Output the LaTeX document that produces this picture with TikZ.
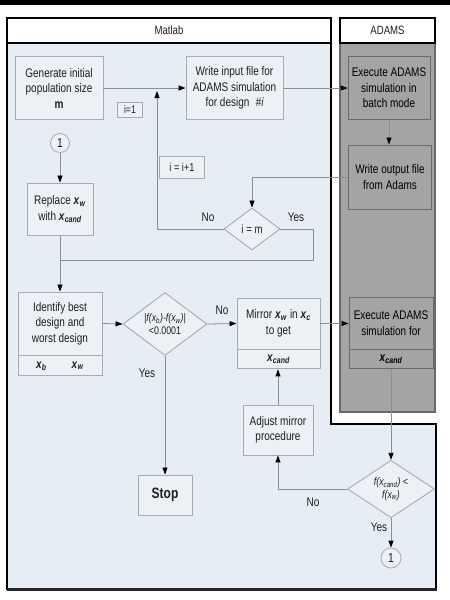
\documentclass[tikz,border=0pt]{standalone}
\usepackage{fontspec}
\setmainfont{Liberation Sans}[FakeStretch=0.8]
\usetikzlibrary{shapes.geometric, arrows.meta, positioning}
\definecolor{matlabbg}{HTML}{E7EDF4}
\definecolor{boxfill}{HTML}{EDF1F6}
\definecolor{boxline}{HTML}{A6ABB2}
\definecolor{adamsbg}{HTML}{A4A4A4}
\definecolor{adamsline}{HTML}{6A6A6A}
\definecolor{wireline}{HTML}{8A8F96}
\definecolor{textcol}{HTML}{1E1E1E}
\tikzset{
  proc/.style={rectangle, draw=boxline, line width=0.9pt, fill=boxfill, align=center, inner sep=0pt,
    text=textcol, font=\fontsize{12.5}{15.5}\selectfont},
  adamsproc/.style={proc, draw=adamsline, fill=adamsbg, text=black},
  decision/.style={diamond, draw=boxline, line width=0.9pt, fill=boxfill, align=center, inner sep=0pt,
    text=textcol, font=\fontsize{11}{13}\selectfont},
  conn/.style={circle, draw=boxline, line width=0.8pt, fill=boxfill, minimum size=19pt, inner sep=0pt,
    text=textcol, font=\fontsize{13}{15}\selectfont},
  header/.style={rectangle, draw=black, line width=1.5pt, fill=white, inner sep=0pt,
    minimum height=25pt, text=textcol, font=\fontsize{12}{14}\selectfont},
  lbl/.style={text=textcol, inner sep=0pt, font=\fontsize{12.5}{14}\selectfont},
  wire/.style={draw=wireline, line width=0.8pt},
  arr/.style={wire, -{Triangle[length=7pt, width=5pt, color=black]}}
}
\newcommand{\xv}[1]{\textbf{\textit{x}\textsubscript{\textit{#1}}}}
\begin{document}
\begin{tikzpicture}[x=1pt, y=-1pt]
\useasboundingbox (0,0) rectangle (450,600);
\fill[white] (0,0) rectangle (450,600);
\fill[black] (0,0) rectangle (450,5);

\filldraw[fill=matlabbg, draw=black, line width=1.2pt]
  (7,43) -- (331,43) -- (331,424) -- (436,424) -- (436,589) -- (7,589) -- cycle;
\draw[line width=2.5pt, black!85] (7,589.5) -- (437,589.5);
\filldraw[fill=adamsbg, draw=adamsline, line width=1.2pt] (340,43) rectangle (435,412);

\node[header, minimum width=324pt] (hmatlab) at (169,30.5) {Matlab};
\node[header, minimum width=95pt] (hadams) at (387.5,30.5) {ADAMS};

\node[proc, minimum width=88pt, minimum height=63pt] (gen) at (59,88)
  {Generate initial\\population size\\\textbf{m}};
\node[proc, minimum width=97pt, minimum height=63pt] (write) at (234.5,88)
  {Write input file for\\ADAMS simulation\\for design\enspace{\itshape\#i}};
\node[adamsproc, minimum width=82pt, minimum height=63pt] (exec) at (389,88)
  {Execute ADAMS\\simulation in\\batch mode};
\node[proc, minimum width=25pt, minimum height=15pt, font=\fontsize{11}{12}\selectfont] (init) at (130,110) {i=1};
\node[proc, minimum width=45pt, minimum height=22pt, font=\fontsize{11.5}{12}\selectfont] (incr) at (182,167) {i = i+1};
\node[adamsproc, minimum width=83pt, minimum height=64pt] (output) at (390,177)
  {Write output file\\from Adams};
\node[decision, minimum width=56pt, minimum height=42pt, font=\fontsize{12}{13}\selectfont] (check) at (252,229) {i = m};
\node[conn] (cone) at (60,143) {1};
\node[proc, minimum width=66pt, minimum height=52pt] (replace) at (60,209)
  {Replace \xv{w}\\with \xv{cand}};
\node[proc, minimum width=84pt, minimum height=63pt] (ident) at (60,323.5)
  {Identify best\\design and\\worst design};
\node[proc, minimum width=84pt, minimum height=20pt, below=0pt of ident] (identsub)
  {\xv{b}\qquad\xv{w}};
\node[decision, minimum width=84pt, minimum height=62pt] (conv) at (165,324)
  {\itshape|f(x\textsubscript{b})-f(x\textsubscript{w})|\\\textless0.0001};
\node[proc, minimum width=83pt, minimum height=51pt] (mirror) at (278.5,323.5)
  {Mirror \xv{w} in \xv{c}\\to get};
\node[proc, minimum width=83pt, minimum height=19pt, below=0pt of mirror] (mirrorsub) {\xv{cand}};
\node[adamsproc, minimum width=84pt, minimum height=52pt] (execf) at (391,323)
  {Execute ADAMS\\simulation for};
\node[adamsproc, minimum width=84pt, minimum height=19pt, below=0pt of execf] (execfsub) {\xv{cand}};
\node[proc, minimum width=54pt, minimum height=40pt, font=\bfseries\fontsize{15}{17}\selectfont] (stop) at (165,495) {Stop};
\node[proc, minimum width=70pt, minimum height=50pt] (adjust) at (278,430)
  {Adjust mirror\\procedure};
\node[decision, minimum width=87pt, minimum height=53pt] (better) at (391,489)
  {\itshape f(x\textsubscript{cand}) \textless\\\itshape f(x\textsubscript{w})};
\node[conn, minimum size=20pt] (ctwo) at (391,558) {1};

\node[lbl] (lno1) at (208,217) {No};
\node[lbl] (lyes1) at (296,217) {Yes};
\node[lbl] (lno2) at (222,310) {No};
\node[lbl] (lyes2) at (147,373) {Yes};
\node[lbl] (lno3) at (313,502) {No};
\node[lbl] (lyes3) at (379,527) {Yes};

\coordinate (loopjoin) at (157,88);
\coordinate (merge) at (60,260);

\draw[arr] (gen.east) -- (write.west);
\draw[arr] (write.east) -- (exec.west);
\draw[arr] (exec.south) -- (exec.south |- output.north);
\draw[arr] (output.west) -| (check.north);
\draw[arr, shorten >=3pt] (check.west) -| (loopjoin);
\draw[wire] (check.east) -- ++(33,0) |- (merge);
\draw[arr] (cone.south) -- (replace.north);
\draw[arr] (replace.south) -- (ident.north);
\draw[arr] (ident.east) -- (conv.west);
\draw[arr] (conv.east) -- (mirror.west);
\draw[arr] (mirror.east) -- (mirror.east -| execf.west);
\draw[arr] (conv.south) -- (stop.north);
\draw[arr] (execfsub.south) -- (better.north);
\draw[arr] (better.west) -| (adjust.south);
\draw[arr] (adjust.north) -- (adjust.north |- mirrorsub.south);
\draw[arr] (better.south) -- (ctwo.north);
\end{tikzpicture}
\end{document}
